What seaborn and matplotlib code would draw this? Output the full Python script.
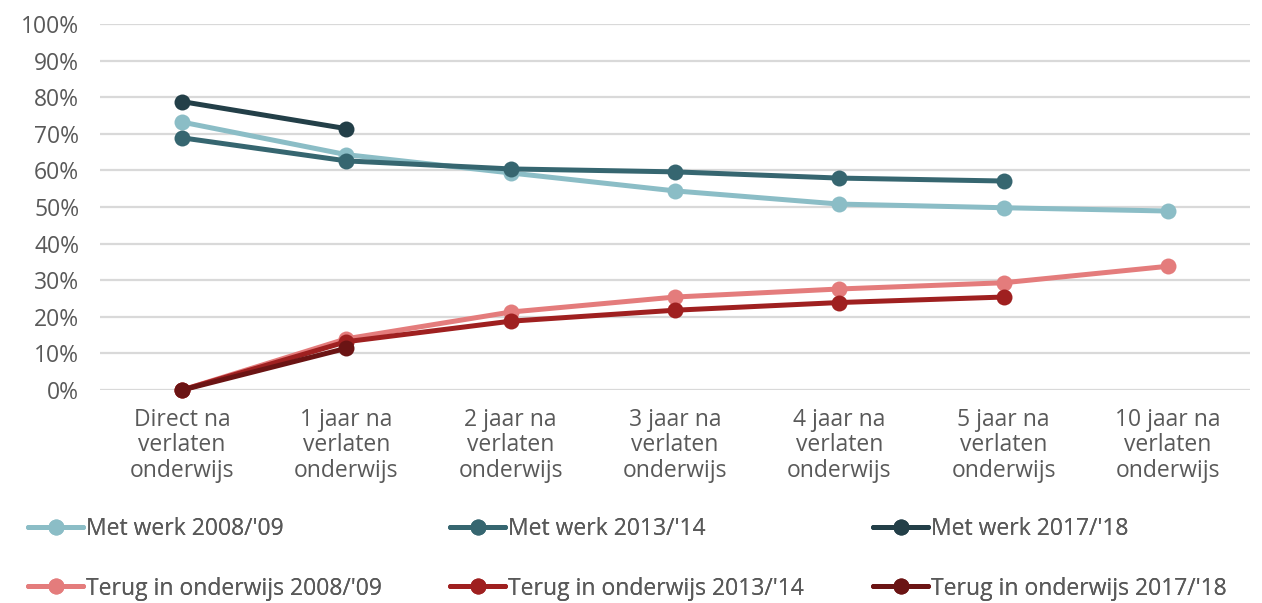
import matplotlib
matplotlib.use("Agg")
import matplotlib.pyplot as plt
import numpy as np
import pandas as pd
import seaborn as sns

CATEGORIES = [
    "Direct na\nverlaten\nonderwijs", "1 jaar na\nverlaten\nonderwijs",
    "2 jaar na\nverlaten\nonderwijs", "3 jaar na\nverlaten\nonderwijs",
    "4 jaar na\nverlaten\nonderwijs", "5 jaar na\nverlaten\nonderwijs",
    "10 jaar na\nverlaten\nonderwijs",
]

SERIES = [
    "Met werk 2008/'09", "Met werk 2013/'14", "Met werk 2017/'18",
    "Terug in onderwijs 2008/'09", "Terug in onderwijs 2013/'14", "Terug in onderwijs 2017/'18",
]

met_werk_0809 = [73.2, 64.3, 59.3, 54.4, 50.8, 49.8, 48.9]
met_werk_1314 = [68.9, 62.6, 60.4, 59.6, 57.9, 57.1]
met_werk_1718 = [78.8, 71.4]
terug_0809 = [0.0, 14.0, 21.3, 25.4, 27.6, 29.3, 33.8]
terug_1314 = [0.0, 13.2, 18.8, 21.8, 23.9, 25.4]
terug_1718 = [0.0, 11.4]

COLORS = ["#8bbdc6", "#366670", "#233f48", "#e47c7c", "#9f2020", "#6b1414"]
TEXT = "#595959"


def build_frame() -> pd.DataFrame:
    rows = []
    for name, vals in zip(SERIES, [met_werk_0809, met_werk_1314, met_werk_1718,
                                   terug_0809, terug_1314, terug_1718]):
        for i, v in enumerate(vals):
            rows.append({"pos": i, "value": v, "series": name})
    return pd.DataFrame(rows)


def main() -> None:
    sns.set_style("white")
    plt.rcParams["font.family"] = ["Open Sans", "DejaVu Sans"]

    df = build_frame()
    fig = plt.figure(figsize=(12.62, 6.03), dpi=100)
    ax = fig.add_axes([100 / 1262, 1 - 390 / 603, 1150 / 1262, 366 / 603])

    for y in range(0, 101, 10):
        ax.axhline(y, color="#d9d9d9", linewidth=1.6, zorder=0)

    sns.lineplot(data=df, x="pos", y="value", hue="series", hue_order=SERIES,
                 palette=dict(zip(SERIES, COLORS)), marker="o", markersize=11.5,
                 markeredgewidth=0, linewidth=3.6, clip_on=False, legend=True, ax=ax)

    ax.set_xlim(-0.5, len(CATEGORIES) - 0.5)
    ax.set_ylim(0, 100)
    ax.set_xticks(np.arange(len(CATEGORIES)))
    ax.set_xticklabels(CATEGORIES, fontsize=16.5, color=TEXT, linespacing=1.07)
    ax.set_yticks(range(0, 101, 10))
    ax.set_yticklabels([f"{v}%" for v in range(0, 101, 10)], fontsize=16.5, color=TEXT)
    ax.tick_params(axis="both", length=0)
    ax.tick_params(axis="y", pad=15)
    ax.tick_params(axis="x", pad=13)
    ax.set_xlabel("")
    ax.set_ylabel("")
    for s in ax.spines.values():
        s.set_visible(False)

    handles, labels = ax.get_legend_handles_labels()
    ax.get_legend().remove()
    col_x = [28, 450, 873]
    for c in range(3):
        hs = [handles[c], handles[c + 3]]
        ls = [labels[c], labels[c + 3]]
        leg = fig.legend(hs, ls, loc="upper left",
                         bbox_to_anchor=(col_x[c] / 1262, 1 - 517 / 603),
                         frameon=False, fontsize=16.5, labelcolor=TEXT,
                         handlelength=2.4, handletextpad=0.15, labelspacing=1.55,
                         borderaxespad=0, borderpad=0)
        fig.add_artist(leg)

    fig.savefig("out.png", dpi=100)
    plt.close(fig)


if __name__ == "__main__":
    main()
